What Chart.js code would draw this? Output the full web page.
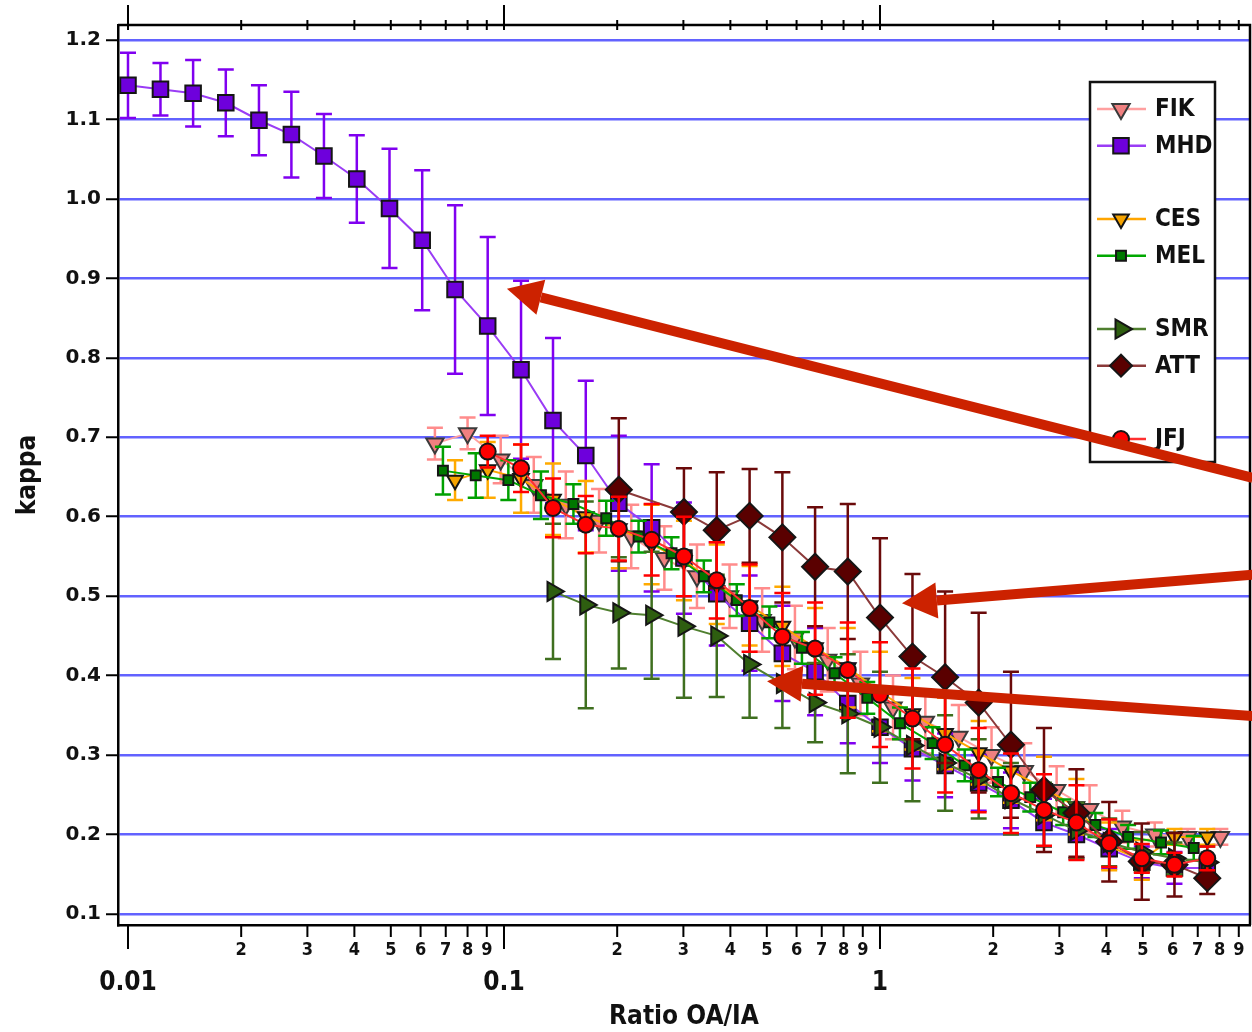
<!DOCTYPE html>
<html>
<head>
<meta charset="utf-8">
<script src="https://cdn.jsdelivr.net/npm/chart.js@4.4.0/dist/chart.umd.min.js"></script>
<style>
  html, body { margin: 0; padding: 0; background: #fff; }
  canvas { display: block; }
</style>
</head>
<body>
<canvas id="kappaChart" width="1252" height="1032"></canvas>
<script>
// bin centres of the ratio OA/IA (log spaced)
const binX = [0.0100, 0.0122, 0.0149, 0.0182, 0.0223, 0.0272, 0.0332, 0.0406, 0.0496, 0.0606,
  0.0741, 0.0905, 0.111, 0.135, 0.165, 0.202, 0.247, 0.301, 0.368, 0.450,
  0.550, 0.672, 0.821, 1.00, 1.22, 1.49, 1.83, 2.23, 2.73, 3.33,
  4.07, 4.97, 6.07, 7.42];

const fikX = [0.0655, 0.080, 0.098, 0.120, 0.146, 0.179, 0.218, 0.267, 0.326, 0.398, 0.486, 0.594,
  0.726, 0.887, 1.083, 1.32, 1.62, 1.98, 2.42, 2.95, 3.61, 4.41, 5.38, 6.58, 8.04];
const fikY = [0.692, 0.705, 0.672, 0.640, 0.615, 0.595, 0.575, 0.548, 0.525, 0.500, 0.470, 0.448,
  0.420, 0.390, 0.360, 0.342, 0.323, 0.300, 0.280, 0.256, 0.232, 0.210, 0.200, 0.197, 0.197];
const fikErr = [0.02, 0.02, 0.03, 0.035, 0.042, 0.04, 0.04, 0.04, 0.04, 0.04, 0.04, 0.04,
  0.04, 0.04, 0.04, 0.04, 0.04, 0.035, 0.035, 0.03, 0.03, 0.02, 0.015, 0.01, 0.01];

const mhdX = binX;
const mhdY = [1.143, 1.138, 1.133, 1.121, 1.099, 1.081, 1.054, 1.025, 0.988, 0.948,
  0.886, 0.840, 0.785, 0.721, 0.677, 0.617, 0.586, 0.548, 0.503, 0.466,
  0.428, 0.405, 0.365, 0.335, 0.308, 0.287, 0.265, 0.243, 0.215, 0.200,
  0.182, 0.165, 0.158, 0.158];
const mhdErr = [0.041, 0.033, 0.042, 0.042, 0.044, 0.054, 0.053, 0.055, 0.075, 0.088,
  0.106, 0.112, 0.112, 0.104, 0.094, 0.085, 0.08, 0.07, 0.065, 0.06,
  0.06, 0.055, 0.05, 0.045, 0.04, 0.04, 0.035, 0.035, 0.03, 0.03,
  0.025, 0.02, 0.02, 0.015];

const cesX = binX.slice(10);
const cesY = [0.646, 0.659, 0.648, 0.622, 0.600, 0.585, 0.565, 0.545, 0.515, 0.488, 0.462, 0.435,
  0.410, 0.380, 0.352, 0.327, 0.303, 0.280, 0.258, 0.235, 0.185, 0.168, 0.197, 0.197];
const cesErr = [0.025, 0.035, 0.043, 0.045, 0.045, 0.05, 0.05, 0.05, 0.05, 0.05, 0.05, 0.05,
  0.05, 0.05, 0.045, 0.045, 0.04, 0.04, 0.04, 0.035, 0.03, 0.025, 0.01, 0.01];

const melX = [0.0688, 0.0841, 0.1027, 0.1254, 0.153, 0.187, 0.228, 0.279, 0.340, 0.416, 0.508, 0.620,
  0.757, 0.925, 1.13, 1.38, 1.68, 2.06, 2.51, 3.07, 3.74, 4.57, 5.59, 6.83];
const melY = [0.658, 0.652, 0.646, 0.627, 0.616, 0.598, 0.575, 0.554, 0.525, 0.495, 0.467, 0.435,
  0.403, 0.372, 0.340, 0.315, 0.287, 0.266, 0.247, 0.228, 0.212, 0.197, 0.190, 0.183];
const melErr = [0.03, 0.028, 0.025, 0.03, 0.025, 0.022, 0.02, 0.02, 0.02, 0.02, 0.02, 0.02,
  0.02, 0.02, 0.02, 0.02, 0.02, 0.018, 0.018, 0.016, 0.015, 0.015, 0.015, 0.015];

const smrX = binX.slice(13);
const smrY = [0.506, 0.489, 0.479, 0.476, 0.462, 0.450, 0.414, 0.390, 0.366, 0.352, 0.335,
  0.312, 0.290, 0.270, 0.245, 0.225, 0.205, 0.190, 0.178, 0.170, 0.165];
const smrErr = [0.085, 0.13, 0.07, 0.08, 0.09, 0.077, 0.067, 0.056, 0.05, 0.075, 0.07,
  0.07, 0.06, 0.05, 0.045, 0.04, 0.035, 0.03, 0.025, 0.02, 0.02];

const attX = [0.202, 0.301, 0.368, 0.450, 0.550, 0.672, 0.821, 1.00, 1.22, 1.49, 1.83, 2.23,
  2.73, 3.33, 4.07, 4.97, 6.07, 7.42];
const attY = [0.634, 0.606, 0.583, 0.601, 0.574, 0.537, 0.531, 0.473, 0.424, 0.398, 0.366, 0.313,
  0.256, 0.227, 0.191, 0.166, 0.162, 0.145];
const attErr = [0.09, 0.055, 0.073, 0.059, 0.082, 0.075, 0.085, 0.10, 0.104, 0.108, 0.113, 0.092,
  0.078, 0.055, 0.05, 0.048, 0.04, 0.02];

const jfjX = binX.slice(11);
const jfjY = [0.682, 0.661, 0.611, 0.590, 0.585, 0.571, 0.550, 0.520, 0.485, 0.449, 0.434, 0.407,
  0.376, 0.346, 0.313, 0.281, 0.252, 0.231, 0.215, 0.189, 0.170, 0.162, 0.170];
const jfjErr = [0.02, 0.03, 0.037, 0.036, 0.04, 0.045, 0.05, 0.048, 0.055, 0.055, 0.058, 0.06,
  0.066, 0.063, 0.06, 0.053, 0.05, 0.045, 0.047, 0.03, 0.018, 0.015, 0.015];

// axes
const yTickValues = [0.1, 0.2, 0.3, 0.4, 0.5, 0.6, 0.7, 0.8, 0.9, 1.0, 1.1, 1.2];
const xTickValues = [0.01, 0.02, 0.03, 0.04, 0.05, 0.06, 0.07, 0.08, 0.09,
  0.1, 0.2, 0.3, 0.4, 0.5, 0.6, 0.7, 0.8, 0.9,
  1, 2, 3, 4, 5, 6, 7, 8, 9];
const xTickLabels = ['0.01', '2', '3', '4', '5', '6', '7', '8', '9',
  '0.1', '2', '3', '4', '5', '6', '7', '8', '9',
  '1', '2', '3', '4', '5', '6', '7', '8', '9'];
const majorTicks = [0.01, 0.1, 1];

// red annotation arrows, tail -> tip, in data units
const arrowFrom = [[9.8, 0.649], [9.8, 0.527], [9.8, 0.349]];
const arrowTo = [[0.1018, 0.887], [1.144, 0.491], [0.5007, 0.393]];

const narrow = '"Liberation Sans Narrow", "DejaVu Sans Condensed", "Arial Narrow", sans-serif';
const wide = '"DejaVu Sans", "Liberation Sans", sans-serif';

function series(label, xs, ys, errs, style) {
  return Object.assign({
    label,
    data: xs.map((x, i) => ({ x, y: ys[i] })),
    errors: errs,
    showLine: true,
    borderWidth: 2,
    pointBorderWidth: 2,
    pointBorderColor: '#151515',
    pointHoverRadius: 0
  }, style);
}

const datasets = [
  series('FIK', fikX, fikY, fikErr, {
    borderColor: '#ffa0a0', pointBackgroundColor: '#f08080', pointBorderColor: '#3a3a3a',
    pointStyle: 'triangle', pointRotation: 180, pointRadius: 10, errorColor: '#ff8c8c', order: 7
  }),
  series('MHD', mhdX, mhdY, mhdErr, {
    borderColor: '#9a3cf5', pointBackgroundColor: '#6e00dc',
    pointStyle: 'rect', pointRadius: 11, errorColor: '#8000f0', order: 6
  }),
  series('CES', cesX, cesY, cesErr, {
    borderColor: '#ffa500', pointBackgroundColor: '#f5a300',
    pointStyle: 'triangle', pointRotation: 180, pointRadius: 9, errorColor: '#ffaa00', order: 5
  }),
  series('MEL', melX, melY, melErr, {
    borderColor: '#00a800', pointBackgroundColor: '#007800',
    pointStyle: 'rect', pointRadius: 7, errorColor: '#00a000', order: 4
  }),
  series('SMR', smrX, smrY, smrErr, {
    borderColor: '#4f7f2f', pointBackgroundColor: '#2e5e10',
    pointStyle: 'triangle', pointRotation: 90, pointRadius: 11, errorColor: '#3f6f1f', order: 3
  }),
  series('ATT', attX, attY, attErr, {
    borderColor: '#8b3a3a', pointBackgroundColor: '#5a0000',
    pointStyle: 'rectRot', pointRadius: 13, errorColor: '#6a0a0a', order: 2
  }),
  series('JFJ', jfjX, jfjY, jfjErr, {
    borderColor: '#ff3030', pointBackgroundColor: '#ff0000',
    pointStyle: 'circle', pointRadius: 8, errorColor: '#ff0000', order: 1
  })
];

// error bars drawn just under each dataset's own line and markers
const errorBars = {
  id: 'errorBars',
  beforeDatasetDraw(chart, args) {
    const ds = chart.data.datasets[args.index];
    if (!ds.errors) return;
    const { ctx, chartArea: a, scales: { x, y } } = chart;
    ctx.save();
    ctx.beginPath();
    ctx.rect(a.left, a.top, a.right - a.left, a.bottom - a.top);
    ctx.clip();
    ctx.strokeStyle = ds.errorColor;
    ctx.lineWidth = 2.5;
    ctx.beginPath();
    ds.data.forEach((p, i) => {
      const e = ds.errors[i];
      const px = x.getPixelForValue(p.x);
      const hi = y.getPixelForValue(p.y + e);
      const lo = y.getPixelForValue(p.y - e);
      ctx.moveTo(px, hi); ctx.lineTo(px, lo);
      ctx.moveTo(px - 8, hi); ctx.lineTo(px + 8, hi);
      ctx.moveTo(px - 8, lo); ctx.lineTo(px + 8, lo);
    });
    ctx.stroke();
    ctx.restore();
  }
};

// top and right frame, log ticks (long at decades)
const frameTicks = {
  id: 'frameTicks',
  beforeDatasetsDraw(chart) {
    const { ctx, chartArea: a, scales: { x } } = chart;
    ctx.save();
    ctx.strokeStyle = '#000';
    ctx.lineWidth = 2.5;
    ctx.beginPath();
    ctx.moveTo(a.left, a.top); ctx.lineTo(a.right, a.top);
    ctx.lineTo(a.right, a.bottom);
    ctx.stroke();
    ctx.lineWidth = 2;
    ctx.beginPath();
    xTickValues.forEach(v => {
      const px = x.getPixelForValue(v);
      const big = majorTicks.includes(v);
      ctx.moveTo(px, a.bottom); ctx.lineTo(px, a.bottom + (big ? 24 : 12));
      ctx.moveTo(px, a.top + 5); ctx.lineTo(px, a.top - (big ? 20 : 5));
    });
    ctx.stroke();
    ctx.restore();
  }
};

const legendBox = {
  id: 'legendBox',
  afterDatasetsDraw(chart) {
    const { ctx } = chart;
    const slots = [0, 1, 3, 4, 6, 7, 9];
    ctx.save();
    ctx.fillStyle = '#fff';
    ctx.fillRect(1090, 82, 125, 380);
    ctx.strokeStyle = '#111';
    ctx.lineWidth = 2.5;
    ctx.strokeRect(1090, 82, 125, 380);
    chart.data.datasets.forEach((ds, i) => {
      const ly = 109 + 36.67 * slots[i];
      ctx.strokeStyle = ds.borderColor;
      ctx.lineWidth = 2.5;
      ctx.beginPath();
      ctx.moveTo(1097, ly); ctx.lineTo(1146, ly);
      ctx.stroke();
      ctx.fillStyle = ds.pointBackgroundColor;
      ctx.strokeStyle = ds.pointBorderColor;
      ctx.lineWidth = 2;
      Chart.helpers.drawPoint(ctx, {
        pointStyle: ds.pointStyle, rotation: ds.pointRotation || 0,
        radius: Math.min(ds.pointRadius, 11), borderWidth: 2
      }, 1121, ly);
      ctx.fillStyle = '#111';
      ctx.font = 'bold 24px ' + narrow;
      ctx.textBaseline = 'middle';
      ctx.textAlign = 'left';
      ctx.fillText(ds.label, 1155, ly + 1);
    });
    ctx.restore();
  }
};

const redArrows = {
  id: 'redArrows',
  afterDatasetsDraw(chart) {
    const { ctx, scales: { x, y } } = chart;
    ctx.save();
    ctx.fillStyle = '#cc2200';
    ctx.strokeStyle = '#cc2200';
    arrowFrom.forEach((f, i) => {
      const t = arrowTo[i];
      const x0 = x.getPixelForValue(f[0]), y0 = y.getPixelForValue(f[1]);
      const x1 = x.getPixelForValue(t[0]), y1 = y.getPixelForValue(t[1]);
      const ang = Math.atan2(y1 - y0, x1 - x0);
      const headLen = 35, headHalf = 18;
      const bx = x1 - Math.cos(ang) * headLen, by = y1 - Math.sin(ang) * headLen;
      ctx.lineWidth = 10;
      ctx.beginPath();
      ctx.moveTo(x0, y0); ctx.lineTo(bx, by);
      ctx.stroke();
      ctx.beginPath();
      ctx.moveTo(x1, y1);
      ctx.lineTo(bx + Math.sin(ang) * headHalf, by - Math.cos(ang) * headHalf);
      ctx.lineTo(bx - Math.sin(ang) * headHalf, by + Math.cos(ang) * headHalf);
      ctx.closePath();
      ctx.fill();
    });
    ctx.restore();
  }
};

new Chart(document.getElementById('kappaChart'), {
  type: 'scatter',
  data: { datasets },
  options: {
    responsive: false,
    animation: false,
    devicePixelRatio: 1,
    layout: { autoPadding: false, padding: { top: 25, right: 2, left: 0, bottom: 0 } },
    plugins: { legend: { display: false }, tooltip: { enabled: false } },
    scales: {
      x: {
        type: 'logarithmic',
        position: 'bottom',
        min: 0.009406,
        max: 9.64,
        bounds: 'data',
        afterBuildTicks: s => { s.ticks = xTickValues.map(v => ({ value: v })); },
        afterFit: s => { s.height = 107; s.paddingLeft = 0; s.paddingRight = 0; },
        grid: { display: false, drawTicks: false },
        border: { display: true, color: '#000', width: 2.5 },
        ticks: {
          autoSkip: false,
          maxRotation: 0,
          padding: 15,
          color: '#111',
          callback: (v, i) => majorTicks.includes(xTickValues[i]) ? ['', xTickLabels[i]] : xTickLabels[i],
          font: c => majorTicks.includes(xTickValues[c.index])
            ? { family: narrow, size: 26, weight: 'bold', lineHeight: 1.1 }
            : { family: narrow, size: 18, weight: 'bold', lineHeight: 1.2 }
        },
        title: {
          display: true,
          text: 'Ratio OA/IA',
          color: '#111',
          font: { family: narrow, size: 26, weight: 'bold', lineHeight: 1.1 },
          padding: { top: 0, bottom: 0 }
        }
      },
      y: {
        type: 'linear',
        min: 0.0861,
        max: 1.2189,
        bounds: 'data',
        afterBuildTicks: s => { s.ticks = yTickValues.map(v => ({ value: v })); },
        afterFit: s => { s.width = 118; s.paddingTop = 0; s.paddingBottom = 0; },
        grid: {
          color: 'rgba(70, 70, 255, 0.85)',
          lineWidth: 2.5,
          tickColor: '#000',
          tickWidth: 2,
          tickLength: 12
        },
        border: { display: true, color: '#000', width: 2.5 },
        ticks: {
          padding: 5,
          color: '#111',
          font: { family: wide, size: 20, weight: 'bold' },
          callback: v => v.toFixed(1)
        },
        title: {
          display: true,
          text: 'kappa',
          color: '#111',
          font: { family: narrow, size: 26, weight: 'bold', lineHeight: 1.1 },
          padding: { top: 14, bottom: 0 }
        }
      }
    }
  },
  plugins: [errorBars, frameTicks, legendBox, redArrows]
});
</script>
</body>
</html>
